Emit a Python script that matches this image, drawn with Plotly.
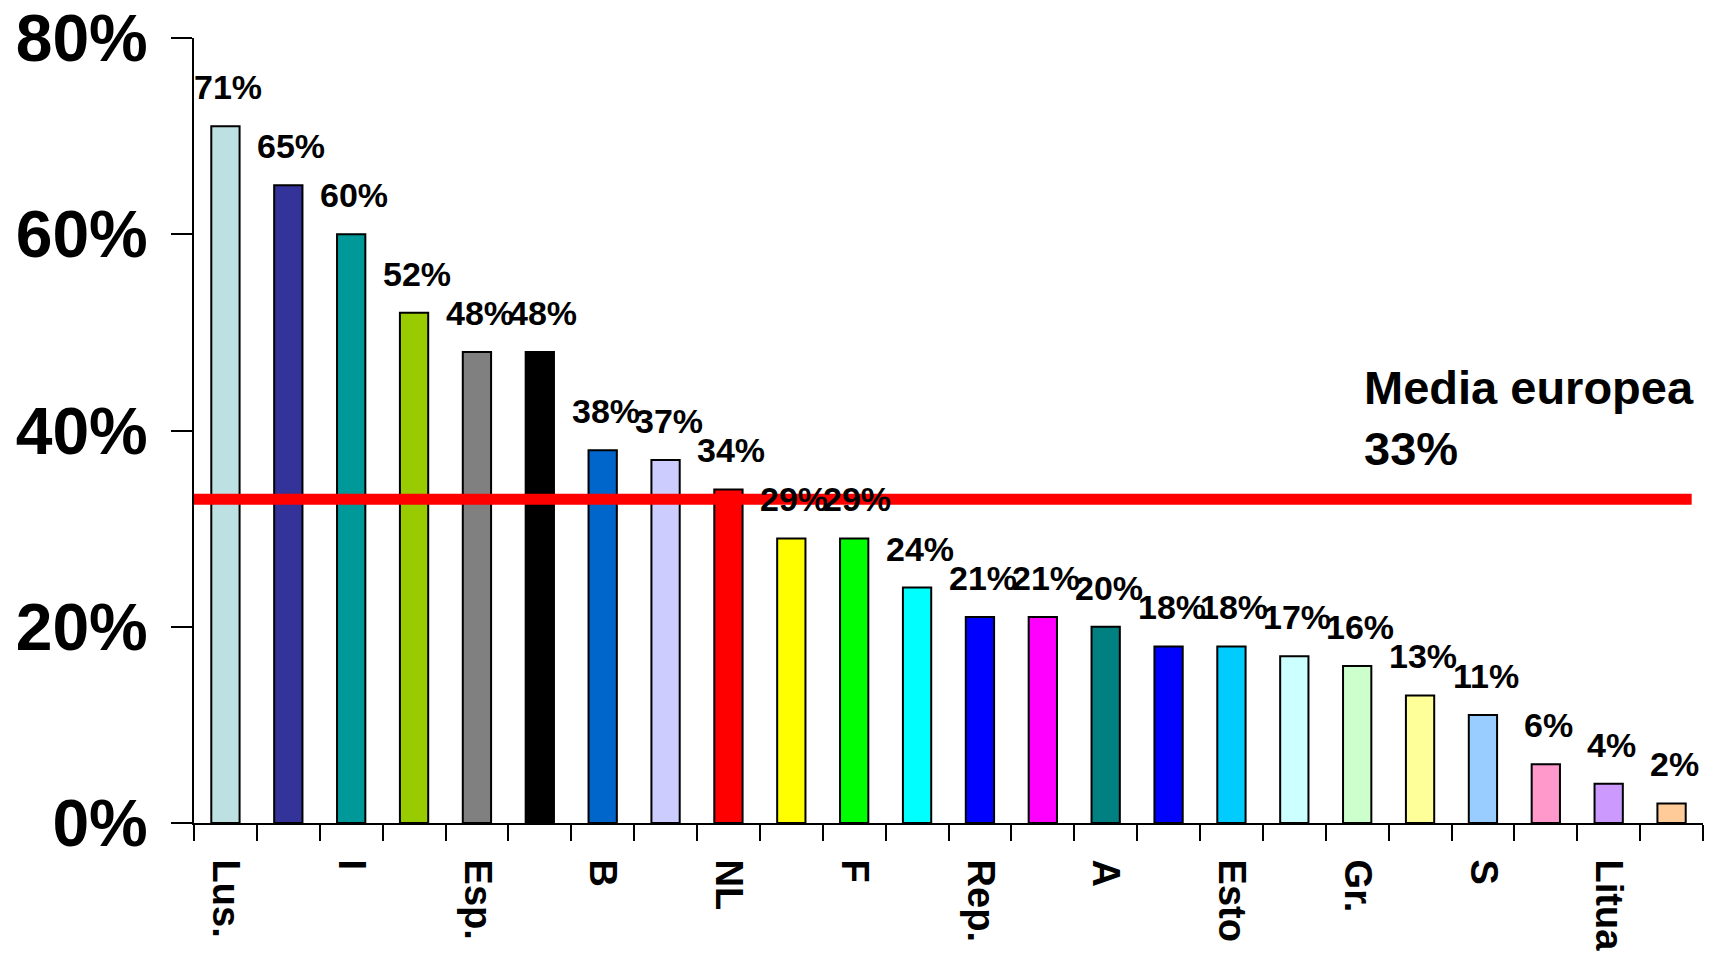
import plotly.graph_objects as go

# Share per country, sorted descending (percent)
values = [71, 65, 60, 52, 48, 48, 38, 37, 34, 29, 29, 24,
          21, 21, 20, 18, 18, 17, 16, 13, 11, 6, 4, 2]
bar_colors = ["#bde0e3", "#333399", "#009999", "#99cc00", "#808080", "#000000",
              "#0066cc", "#ccccff", "#ff0000", "#ffff00", "#00ff00", "#00ffff",
              "#0000ff", "#ff00ff", "#008080", "#0000ff", "#00ccff", "#ccffff",
              "#ccffcc", "#ffff99", "#99ccff", "#ff99cc", "#cc99ff", "#ffcc99"]
# Axis labels, shown under every second bar
tick_labels = ["Lus.", "I", "Esp.", "B", "NL", "F", "Rep.", "A", "Esto",
               "Gr.", "S", "Litua"]
y_ticks = [0, 20, 40, 60, 80]
eu_average = 33

FONT = "Liberation Sans, Arial, Helvetica, sans-serif"

x = list(range(len(values)))
label_pos = x[::2][:len(tick_labels)]
boundaries = [i - 0.5 for i in range(len(values) + 1)]

fig = go.Figure()
fig.add_trace(go.Bar(
    x=x, y=values,
    marker=dict(color=bar_colors, line=dict(color="black", width=2)),
    width=0.45,
    hoverinfo="skip",
))

# value labels above each bar
for xi, v in zip(x, values):
    fig.add_annotation(
        x=xi, y=v, text=f"{v}%", showarrow=False,
        xanchor="center", yanchor="bottom", xshift=3, yshift=18,
        font=dict(family=FONT, size=34, color="black", weight=700),
    )

# European average line and its caption
fig.add_shape(type="line", xref="x", yref="y",
              x0=-0.52, x1=23.32, y0=eu_average, y1=eu_average,
              line=dict(color="#ff0000", width=11), layer="above")
fig.add_annotation(
    x=18.08, y=47.3, xref="x", yref="y", showarrow=False,
    xanchor="left", yanchor="top", align="left",
    text=f"Media europea<br>{eu_average}%",
    font=dict(family=FONT, size=47, color="black", weight=700),
)

# short extension of the category axis to the left of the value axis
fig.add_shape(type="line", xref="paper", yref="y",
              x0=-0.0139, x1=0, y0=0, y1=0,
              line=dict(color="black", width=2))

fig.update_layout(
    width=1717, height=953,
    margin=dict(l=194, r=14, t=38, b=130, pad=0),
    paper_bgcolor="white", plot_bgcolor="white",
    showlegend=False,
    xaxis=dict(
        range=[-0.5, len(values) - 0.5], automargin=False,
        tickmode="array", tickvals=label_pos, ticktext=tick_labels,
        ticks="", tickangle=90, ticklabelstandoff=27,
        tickfont=dict(family=FONT, size=38, color="black", weight=700),
        showline=True, linecolor="black", linewidth=2,
        showgrid=False, zeroline=False,
        minor=dict(tickmode="array", tickvals=boundaries, ticks="outside",
                   ticklen=16, tickwidth=2, tickcolor="black", showgrid=False),
    ),
    yaxis=dict(
        range=[0, 80], automargin=False,
        tickmode="array", tickvals=y_ticks,
        ticktext=[f"{t}%" for t in y_ticks],
        ticks="outside", ticklen=21, tickwidth=2, tickcolor="black",
        ticklabelstandoff=10,
        tickfont=dict(family=FONT, size=66, color="black", weight=700),
        showline=True, linecolor="black", linewidth=2,
        showgrid=False, zeroline=False,
    ),
)

fig.write_html("out.html")
